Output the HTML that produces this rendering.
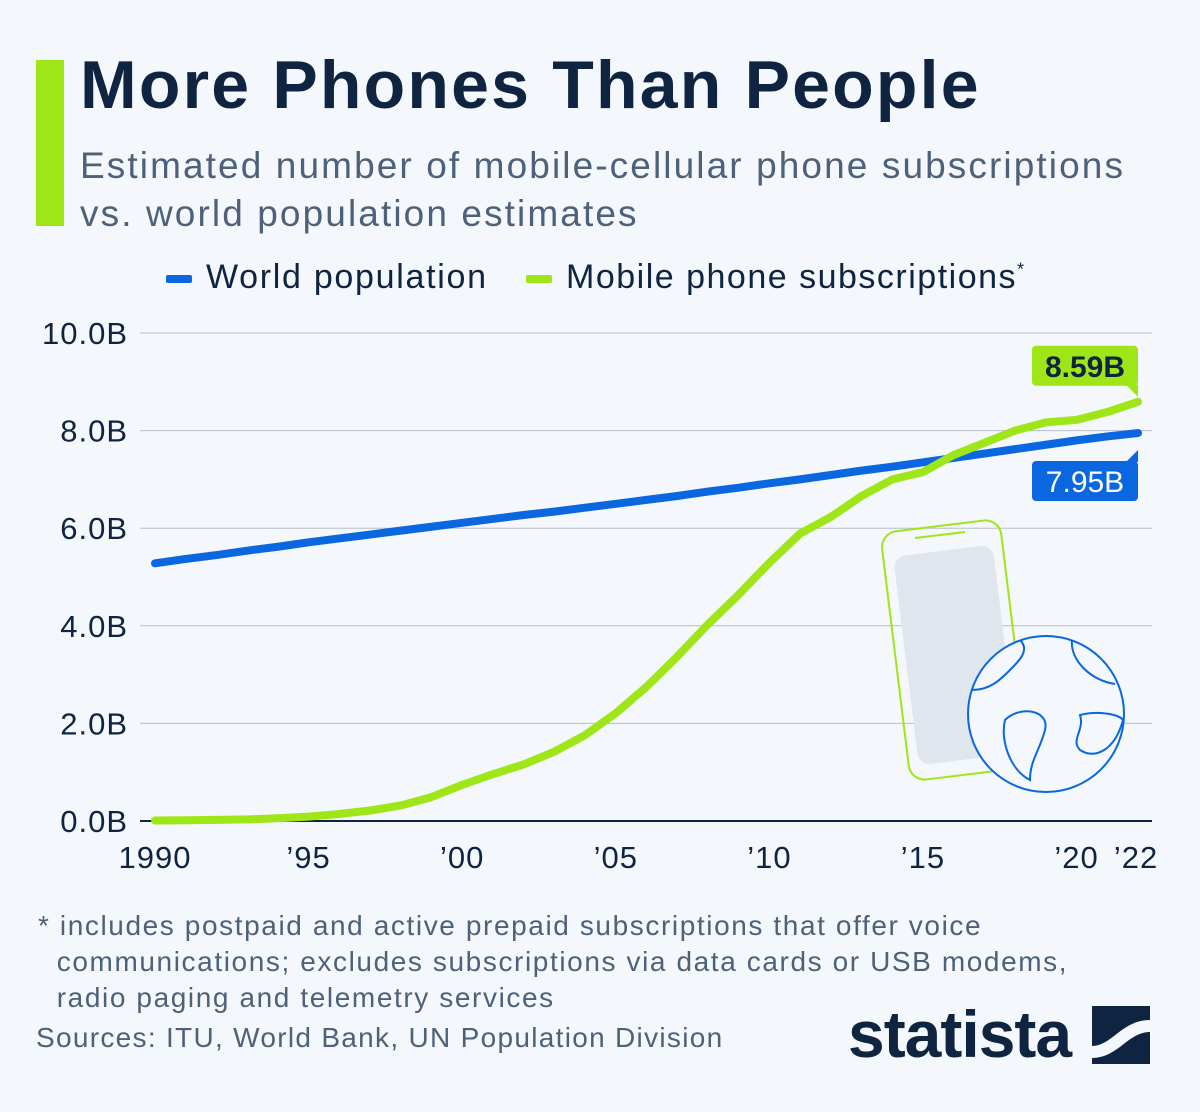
<!DOCTYPE html>
<html><head><meta charset="utf-8"><style>
body{margin:0;background:#f4f7fb;font-family:"Liberation Sans",sans-serif;}
#root{position:relative;width:1200px;height:1112px;overflow:hidden;background:#f4f7fb;}
.abs{position:absolute;}
</style></head><body>
<div id="root">
<div class="abs" style="left:36px;top:60px;width:28px;height:166px;background:#9fe618"></div>
<div class="abs" style="left:80px;top:46px;font-size:68px;font-weight:bold;color:#0e2441;letter-spacing:2.2px">More Phones Than People</div>
<div class="abs" style="left:80px;top:142px;font-size:37px;line-height:48px;color:#4d617a;letter-spacing:2.1px;white-space:nowrap">Estimated number of mobile-cellular phone subscriptions<br>vs. world population estimates</div>
<div class="abs" style="left:166px;top:258px;font-size:34px;color:#0e2441;white-space:nowrap;letter-spacing:1.7px"><span style="display:inline-block;width:26px;height:8px;background:#0a67e0;vertical-align:middle;margin-right:14px;border-radius:2px"></span>World population</div>
<div class="abs" style="left:526px;top:258px;font-size:34px;color:#0e2441;white-space:nowrap;letter-spacing:1.5px"><span style="display:inline-block;width:26px;height:8px;background:#9fe618;vertical-align:middle;margin-right:14px;border-radius:2px"></span>Mobile phone subscriptions<sup style="font-size:18px">*</sup></div>
<svg id="chart" class="abs" style="left:0;top:0" width="1200" height="900"></svg>
<div class="abs" style="left:38px;top:908px;font-size:28px;line-height:36px;color:#4d617a;letter-spacing:1.6px;white-space:nowrap">* includes postpaid and active prepaid subscriptions that offer voice<br>&nbsp;&nbsp;communications; excludes subscriptions via data cards or USB modems,<br>&nbsp;&nbsp;radio paging and telemetry services</div>
<div class="abs" style="left:36px;top:1022px;font-size:28px;color:#4d617a;letter-spacing:1.3px">Sources: ITU, World Bank, UN Population Division</div>
<div class="abs" style="left:848px;top:996px;font-size:66px;font-weight:bold;color:#0e2441;letter-spacing:-1px">statista</div>
<svg class="abs" style="left:1092px;top:1006px" width="58" height="58"><rect width="58" height="58" fill="#0e2441"/><path d="M0 40 C20 40 30 14 58 14 L58 26 C36 26 26 52 0 52Z" fill="#f4f7fb"/></svg>
</div>
<script>
const years=[1990,1991,1992,1993,1994,1995,1996,1997,1998,1999,2000,2001,2002,2003,2004,2005,2006,2007,2008,2009,2010,2011,2012,2013,2014,2015,2016,2017,2018,2019,2020,2021,2022];
const mobile=[0.01,0.016,0.023,0.034,0.056,0.09,0.145,0.215,0.318,0.49,0.74,0.96,1.16,1.42,1.76,2.21,2.75,3.37,4.03,4.64,5.29,5.89,6.23,6.66,7.0,7.15,7.5,7.75,8.0,8.17,8.22,8.38,8.59];
const population=[5.28,5.37,5.45,5.54,5.62,5.71,5.79,5.87,5.95,6.03,6.11,6.19,6.27,6.34,6.42,6.50,6.58,6.66,6.75,6.83,6.92,7.00,7.09,7.18,7.26,7.35,7.44,7.53,7.62,7.71,7.80,7.88,7.95];
const yTicks=[0,2,4,6,8,10];
const yTickLabels=["0.0B","2.0B","4.0B","6.0B","8.0B","10.0B"];
const xTicks=[1990,1995,2000,2005,2010,2015,2020,2022];
const xTickLabels=["1990","’95","’00","’05","’10","’15","’20","’22"];
const NS="http://www.w3.org/2000/svg";
const svg=document.getElementById('chart');
const x=v=>155+(v-1990)*(1138-155)/32;
const y=v=>821-v*48.8;
function mk(t,a,p){const e=document.createElementNS(NS,t);for(const k in a)e.setAttribute(k,a[k]);(p||svg).appendChild(e);return e;}
yTicks.forEach((t,i)=>{
 const l=mk('line',{x1:140,x2:1152,y1:y(t),y2:y(t),stroke:t===0?'#0e2441':'#b8c0cc','stroke-width':t===0?2:1});
 
 const tx=mk('text',{x:128,y:y(t)+11,'text-anchor':'end','font-size':31,fill:'#0e2441','letter-spacing':1});tx.textContent=yTickLabels[i];
 
});
xTicks.forEach((t,i)=>{
 const tx=mk('text',{x:x(t)+(t===2022?-2:0),y:868,'text-anchor':'middle','font-size':31,fill:'#0e2441','letter-spacing':1});tx.textContent=xTickLabels[i];
 
});
const ill=mk('g',{});
mk('rect',{x:895,y:525,width:120,height:250,rx:16,fill:'none',stroke:'#9fe618','stroke-width':2,transform:'rotate(-7 955 650)'},ill);
mk('rect',{x:905,y:550,width:100,height:210,rx:12,fill:'#dfe6ee',transform:'rotate(-7 955 650)'},ill);
mk('line',{x1:915,y1:538,x2:965,y2:532,stroke:'#9fe618','stroke-width':2},ill);
mk('circle',{cx:1046,cy:714,r:78,fill:'#f4f7fb',stroke:'#0a67e0','stroke-width':2},ill);
mk('path',{d:'M972 690 C990 690 1000 680 1010 670 C1020 660 1030 650 1020 640 M1072 640 C1070 660 1090 680 1115 684 M1005 720 C1020 705 1050 710 1045 730 C1040 750 1030 760 1030 780 C1010 770 1000 740 1005 720Z M1080 715 C1100 710 1120 715 1123 720 C1115 750 1095 760 1080 750 C1070 740 1085 730 1080 715Z',fill:'none',stroke:'#0a67e0','stroke-width':2},ill);
const pl=mk('polyline',{points:years.map((yr,i)=>x(yr)+','+y(population[i])).join(' '),fill:'none',stroke:'#0a67e0','stroke-width':8,'stroke-linecap':'round','stroke-linejoin':'round'});

const ml=mk('polyline',{points:years.map((yr,i)=>x(yr)+','+y(mobile[i])).join(' '),fill:'none',stroke:'#9fe618','stroke-width':8,'stroke-linecap':'round','stroke-linejoin':'round'});

const lx=x(2022);
const gy=y(mobile[mobile.length-1]);
const g1=mk('g',{});
mk('rect',{x:lx-106,y:gy-56,width:106,height:40,rx:4,fill:'#9fe618'},g1);
mk('path',{d:`M${lx-12} ${gy-17} L${lx} ${gy-17} L${lx} ${gy-5}Z`,fill:'#9fe618'},g1);
const t1=mk('text',{x:lx-53,y:gy-25,'text-anchor':'middle','font-size':30,'font-weight':'bold',fill:'#0e2441'},g1);t1.textContent='8.59B';
const by=y(population[population.length-1]);
const g2=mk('g',{});
mk('rect',{x:lx-106,y:by+28,width:106,height:40,rx:4,fill:'#0a67e0'},g2);
mk('path',{d:`M${lx-12} ${by+29} L${lx} ${by+29} L${lx} ${by+17}Z`,fill:'#0a67e0'},g2);
const t2=mk('text',{x:lx-53,y:by+59,'text-anchor':'middle','font-size':30,fill:'#ffffff'},g2);t2.textContent='7.95B';
</script>
</body></html>
